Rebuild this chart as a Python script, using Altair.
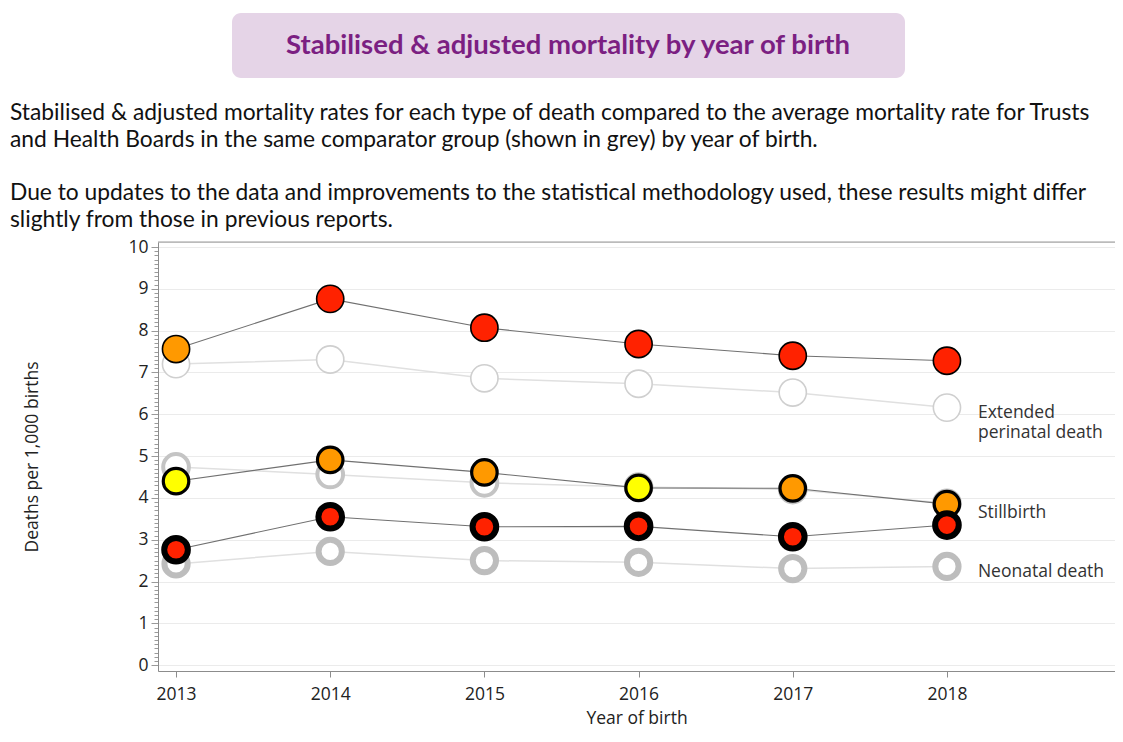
import altair as alt
import pandas as pd

# ---------------- data ----------------
years = [2013, 2014, 2015, 2016, 2017, 2018]

ext_trust = [7.56, 8.76, 8.07, 7.68, 7.40, 7.28]
ext_comp = [7.20, 7.31, 6.86, 6.73, 6.52, 6.16]
ext_band = ["amber", "red", "red", "red", "red", "red"]

still_trust = [4.40, 4.91, 4.61, 4.24, 4.23, 3.85]
still_comp = [4.74, 4.56, 4.36, 4.26, 4.20, 3.87]
still_band = ["yellow", "amber", "amber", "yellow", "amber", "amber"]

neo_trust = [2.76, 3.55, 3.31, 3.32, 3.07, 3.35]
neo_comp = [2.42, 2.72, 2.50, 2.46, 2.31, 2.36]
neo_band = ["red", "red", "red", "red", "red", "red"]

series_names = ["Extended perinatal death", "Stillbirth", "Neonatal death"]
label_texts = ["Extended\nperinatal death", "Stillbirth", "Neonatal death"]
label_values = [6.02, 3.65, 2.23]

band_domain = ["yellow", "amber", "red"]
band_colors = ["#ffff00", "#ff9900", "#ff2200"]

title_text = "Stabilised & adjusted mortality by year of birth"
para_lines = [
    "Stabilised & adjusted mortality rates for each type of death compared to the average mortality rate for Trusts",
    "and Health Boards in the same comparator group (shown in grey) by year of birth.",
    "Due to updates to the data and improvements to the statistical methodology used, these results might differ",
    "slightly from those in previous reports.",
]

# ---------------- layout ----------------
W, H = 957, 429
PAD_L, PAD_T = 150, 234
AX_FONT = "Open Sans"
AX_SIZE = 17.5

trusts = [ext_trust, still_trust, neo_trust]
comps = [ext_comp, still_comp, neo_comp]
bands = [ext_band, still_band, neo_band]

# per-series marker styling
styles = [
    dict(t_size=740, t_sw=1.6, c_size=740, c_sw=1.6, c_col="#cfcfcf"),
    dict(t_size=650, t_sw=3.2, c_size=660, c_sw=4.0, c_col="#c4c4c4"),
    dict(t_size=560, t_sw=6.0, c_size=540, c_sw=6.0, c_col="#bdbdbd"),
]

xscale = alt.Scale(domain=[2012.883, 2019.09], nice=False, zero=False)
yscale = alt.Scale(domain=[-0.14, 10.12], nice=False, zero=False)

y_vals = [round(i * 0.1, 1) for i in range(0, 101)]
int_test = "abs(datum.value - round(datum.value)) < 0.001"

x_axis = alt.Axis(
    values=years, format="d", title="Year of birth",
    labelFont=AX_FONT, labelFontSize=AX_SIZE, labelColor="#222",
    titleFont=AX_FONT, titleFontSize=AX_SIZE, titleFontWeight="normal", titleColor="#222",
    domainColor="#8c8c8c", tickColor="#8c8c8c", tickSize=6, labelPadding=8,
    titlePadding=7, grid=False, labelOverlap=False,
)
y_axis = alt.Axis(
    values=y_vals, tickCount=200, labelOverlap=False,
    title="Deaths per 1,000 births",
    labelExpr=f"{int_test} ? format(datum.value, 'd') : ''",
    labelFont=AX_FONT, labelFontSize=AX_SIZE, labelColor="#222",
    titleFont=AX_FONT, titleFontSize=AX_SIZE, titleFontWeight="normal", titleColor="#222",
    titleX=-126, titleY=H / 2, titleBaseline="middle", titleAngle=-90,
    domainColor="#8c8c8c", tickColor="#9a9a9a",
    tickSize={"condition": {"test": int_test, "value": 7}, "value": 4},
    labelPadding=3,
    grid=True, gridColor="#ebebeb",
    gridOpacity={"condition": {"test": int_test, "value": 1}, "value": 0},
)

def series_df(i, vals):
    return pd.DataFrame({"year": years, "value": vals, "band": bands[i], "series": series_names[i]})

comp_layers, tline_layers, tpoint_layers = [], [], []
for i in range(3):
    st = styles[i]
    dc = series_df(i, comps[i])
    dt = series_df(i, trusts[i])
    enc = dict(
        x=alt.X("year:Q", scale=xscale, axis=x_axis),
        y=alt.Y("value:Q", scale=yscale, axis=y_axis),
    )
    comp_layers.append(alt.Chart(dc).mark_line(color="#e0e0e0", strokeWidth=1.5).encode(**enc))
    comp_layers.append(
        alt.Chart(dc).mark_point(shape="circle", fill="white", filled=False, stroke=st["c_col"],
                                 strokeWidth=st["c_sw"], size=st["c_size"], opacity=1,
                                 fillOpacity=1).encode(**enc)
    )
    tline_layers.append(alt.Chart(dt).mark_line(color="#707070", strokeWidth=1.1).encode(**enc))
    tpoint_layers.append(
        alt.Chart(dt).mark_point(shape="circle", stroke="black", strokeWidth=st["t_sw"],
                                 size=st["t_size"], opacity=1, fillOpacity=1).encode(
            fill=alt.Fill("band:N", scale=alt.Scale(domain=band_domain, range=band_colors), legend=None),
            **enc,
        )
    )

one = pd.DataFrame({"k": [0]})

border = alt.Chart(one).mark_rule(color="#9a9a9a", strokeWidth=1).encode(
    x=alt.value(0), x2=alt.value(W), y=alt.value(0)
)

labels_df = pd.DataFrame({"year": [years[-1]] * 3, "value": label_values, "text": label_texts})
series_labels = alt.Chart(labels_df).mark_text(
    align="left", baseline="middle", dx=31, font=AX_FONT, fontSize=AX_SIZE, color="#333",
    lineBreak="\n", lineHeight=19.5,
).encode(x=alt.X("year:Q", scale=xscale), y=alt.Y("value:Q", scale=yscale), text="text:N")

title_box = alt.Chart(one).mark_rect(color="#e5d4e7", cornerRadius=9).encode(
    x=alt.value(74), x2=alt.value(747), y=alt.value(-229), y2=alt.value(-164)
)
title_mark = alt.Chart(pd.DataFrame({"t": [title_text]})).mark_text(
    align="center", baseline="middle", font="Lato", fontSize=27.5, fontWeight="bold", color="#7b1f82"
).encode(x=alt.value(410), y=alt.value(-196), text="t:N")

para_y = [-129, -102, -49, -22]
para_layers = [
    alt.Chart(pd.DataFrame({"t": [line]})).mark_text(
        align="left", baseline="middle", font="Lato", fontSize=22.8, color="#111"
    ).encode(x=alt.value(-148), y=alt.value(py), text="t:N")
    for line, py in zip(para_lines, para_y)
]

chart = alt.layer(
    title_box, title_mark, *para_layers, border,
    *comp_layers, *tline_layers, *tpoint_layers, series_labels,
).properties(
    width=W, height=H,
    padding={"left": PAD_L, "top": PAD_T, "right": 0, "bottom": 63},
    autosize=alt.AutoSizeParams(type="none"),
).configure_view(stroke=None).configure(background="white")

chart.save("out.html", embed_options={"renderer": "svg", "actions": False})
